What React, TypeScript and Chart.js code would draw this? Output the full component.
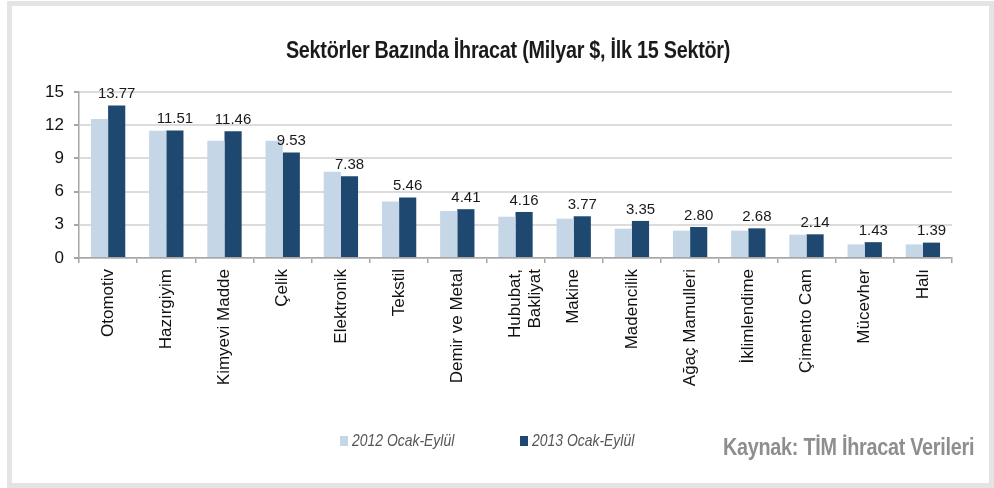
import React, { useEffect, useRef } from "react";
import { Chart, registerables } from "chart.js";

Chart.register(...registerables);

const categories: (string | string[])[] = [
  "Otomotiv",
  "Hazırgiyim",
  "Kimyevi Madde",
  "Çelik",
  "Elektronik",
  "Tekstil",
  "Demir ve Metal",
  ["Hububat,", "Bakliyat"],
  "Makine",
  "Madencilik",
  "Ağaç Mamulleri",
  "İklimlendime",
  "Çimento Cam",
  "Mücevher",
  "Halı",
];

const values2012 = [12.56, 11.49, 10.6, 10.6, 7.8, 5.11, 4.24, 3.73, 3.55, 2.65, 2.47, 2.47, 2.11, 1.23, 1.23];
const values2013 = [13.77, 11.51, 11.46, 9.53, 7.38, 5.46, 4.41, 4.16, 3.77, 3.35, 2.8, 2.68, 2.14, 1.43, 1.39];

const seriesNames = ["2012 Ocak-Eylül", "2013 Ocak-Eylül"];
const seriesColors = ["#c5d6e7", "#1e4870"];

const yMin = 0;
const yMax = 15;
const yStep = 3;

const titleText = "Sektörler Bazında İhracat (Milyar $, İlk 15 Sektör)";
const sourceText = "Kaynak: TİM İhracat Verileri";

const valueLabelPlugin = {
  id: "valueLabels",
  afterDatasetsDraw(chart: any) {
    const ctx = chart.ctx;
    const meta = chart.getDatasetMeta(1);
    const data = chart.data.datasets[1].data as number[];
    ctx.save();
    ctx.font = "15px 'Liberation Sans', Arial, sans-serif";
    ctx.fillStyle = "#1a1a1a";
    ctx.textAlign = "center";
    ctx.textBaseline = "bottom";
    meta.data.forEach((el: any, i: number) => {
      ctx.fillText(data[i].toFixed(2), el.x, el.y - 4);
    });
    ctx.restore();
  },
};

export default function App() {
  const canvasRef = useRef<HTMLCanvasElement | null>(null);

  useEffect(() => {
    if (!canvasRef.current) return;
    const chart = new Chart(canvasRef.current, {
      type: "bar",
      data: {
        labels: categories,
        datasets: [
          {
            label: seriesNames[0],
            data: values2012,
            backgroundColor: seriesColors[0],
            categoryPercentage: 0.59,
            barPercentage: 1,
          },
          {
            label: seriesNames[1],
            data: values2013,
            backgroundColor: seriesColors[1],
            categoryPercentage: 0.59,
            barPercentage: 1,
          },
        ],
      },
      options: {
        responsive: false,
        animation: false,
        devicePixelRatio: 1,
        layout: { padding: { left: 20, top: 92, right: 42, bottom: 90 } },
        plugins: {
          legend: { display: false },
          title: { display: false },
          tooltip: { enabled: false },
        },
        scales: {
          x: {
            offset: true,
            grid: {
              offset: true,
              drawOnChartArea: false,
              drawTicks: true,
              tickLength: 5,
              tickColor: "#a6a6a6",
              lineWidth: 1.5,
            },
            border: { color: "#a6a6a6", width: 1.5 },
            ticks: {
              maxRotation: 90,
              minRotation: 90,
              autoSkip: false,
              padding: 6,
              color: "#111",
              font: { family: "'Liberation Sans', Arial, sans-serif", size: 17, lineHeight: 1.15 },
            },
            afterFit(scale: any) {
              scale.height = 140;
            },
          },
          y: {
            min: yMin,
            max: yMax,
            grid: {
              color: "#dcdcdc",
              lineWidth: 2,
              tickLength: 5,
              tickColor: "#a6a6a6",
            },
            border: { color: "#a6a6a6", width: 1.5 },
            ticks: {
              stepSize: yStep,
              padding: 10,
              color: "#111",
              font: { family: "'Liberation Sans', Arial, sans-serif", size: 17 },
            },
            afterFit(scale: any) {
              scale.width = 59;
            },
          },
        },
      },
      plugins: [valueLabelPlugin],
    });
    return () => chart.destroy();
  }, []);

  const condensed = "'Liberation Sans', Arial, sans-serif";

  return (
    <div
      style={{
        position: "absolute",
        left: 0,
        top: 0,
        width: 994,
        height: 488,
        background: "#fff",
        overflow: "hidden",
      }}
    >
      <div
        style={{
          position: "absolute",
          left: 7,
          top: 1,
          width: 987,
          height: 487,
          border: "5px solid #e4e4e4",
          boxSizing: "border-box",
        }}
      />
      <canvas
        ref={canvasRef}
        width={994}
        height={488}
        style={{ position: "absolute", left: 0, top: 0, width: 994, height: 488 }}
      />
      <div
        style={{
          position: "absolute",
          left: 0,
          width: 1016,
          top: 37,
          textAlign: "center",
          transform: "scaleX(0.86)",
          transformOrigin: "508px 0",
          fontFamily: condensed,
          fontWeight: "bold",
          fontSize: 23,
          letterSpacing: -0.3,
          color: "#1a1a1a",
          whiteSpace: "nowrap",
        }}
      >
        {titleText}
      </div>
      <div
        style={{
          position: "absolute",
          left: 340,
          top: 431,
          height: 20,
          display: "flex",
          alignItems: "center",
          fontFamily: condensed,
          fontStyle: "italic",
          fontSize: 17,
          color: "#555",
          whiteSpace: "nowrap",
        }}
      >
        <span style={{ display: "inline-block", width: 8, height: 10, background: seriesColors[0], marginRight: 4 }} />
        <span
          style={{
            display: "inline-block",
            width: 168,
            transform: "scaleX(0.82)",
            transformOrigin: "0 50%",
          }}
        >
          {seriesNames[0]}
        </span>
        <span style={{ display: "inline-block", width: 8, height: 10, background: seriesColors[1], marginRight: 4 }} />
        <span
          style={{
            display: "inline-block",
            transform: "scaleX(0.82)",
            transformOrigin: "0 50%",
          }}
        >
          {seriesNames[1]}
        </span>
      </div>
      <div
        style={{
          position: "absolute",
          left: 723,
          top: 434,
          transform: "scaleX(0.86)",
          transformOrigin: "0 0",
          fontFamily: condensed,
          fontWeight: "bold",
          fontSize: 23,
          letterSpacing: -0.3,
          color: "#8c8e90",
          whiteSpace: "nowrap",
        }}
      >
        {sourceText}
      </div>
    </div>
  );
}
